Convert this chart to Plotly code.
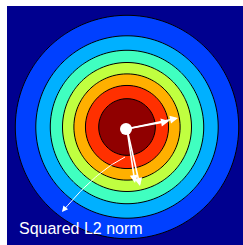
import numpy as np
import plotly.graph_objects as go

# Contour levels of the Gaussian surface and band colours (jet, 8 bands)
levels = [0.125, 0.25, 0.375, 0.5, 0.625, 0.75, 0.875]
band_colors = ["#00008f", "#0040ff", "#00b0ff", "#40ffc0",
               "#c0ff40", "#ffb000", "#ff3000", "#900000"]
center = (120, 121)      # peak location (plot units)
spread = 3000.0          # sigma^2
label = "Squared L2 norm"

W, H = 236, 239
xs = np.arange(0, W + 1, 1.0)
ys = np.arange(0, H + 1, 1.0)
X, Y = np.meshgrid(xs, ys)
Z = np.exp(-((X - center[0]) ** 2 + (Y - center[1]) ** 2) / (2 * spread))

n = len(band_colors)
cs = []
for i, c in enumerate(band_colors):
    cs.append([i / n, c])
    cs.append([(i + 1) / n, c])

fig = go.Figure()
fig.add_trace(go.Contour(
    x=xs, y=ys, z=Z, zmin=0, zmax=1, colorscale=cs, showscale=False,
    contours=dict(start=levels[0], end=levels[-1], size=levels[1] - levels[0], coloring="fill"),
    line=dict(color="black", width=1), hoverinfo="skip"))

# thin curved arrow line
t = np.linspace(0, 1, 30)
p0, p1, p2 = np.array([118, 151]), np.array([88, 166]), np.array([56, 205])
curve = ((1 - t)[:, None] ** 2) * p0 + (2 * (1 - t) * t)[:, None] * p1 + (t ** 2)[:, None] * p2
fig.add_trace(go.Scatter(x=curve[:, 0], y=curve[:, 1], mode="lines",
                         line=dict(color="white", width=1), hoverinfo="skip"))

# white dot at centre
fig.add_trace(go.Scatter(x=[119], y=[123], mode="markers",
                         marker=dict(color="white", size=12), hoverinfo="skip"))

arrows = [((171, 112), (119, 123)), ((162, 115), (119, 123)),
          ((133, 180), (120, 123)), ((128, 177), (120, 123))]
ann = []
for (tx, ty), (sx, sy) in arrows:
    ann.append(dict(x=tx, y=ty, ax=sx, ay=sy, xref="x", yref="y", axref="x", ayref="y",
                    showarrow=True, arrowhead=2, arrowsize=1, arrowwidth=1.6,
                    arrowcolor="white", text=""))
ann.append(dict(x=55, y=206, ax=59, ay=201, xref="x", yref="y", axref="x", ayref="y",
                showarrow=True, arrowhead=2, arrowsize=1.2, arrowwidth=1,
                arrowcolor="white", text=""))
ann.append(dict(x=10, y=222, xref="x", yref="y", text=label, showarrow=False,
                xanchor="left", yanchor="middle",
                font=dict(family="Liberation Sans, Arial, sans-serif", size=16, color="white")))

fig.update_layout(
    width=243, height=245, margin=dict(l=7, r=0, t=6, b=0),
    paper_bgcolor="white", plot_bgcolor="#00008f", showlegend=False,
    xaxis=dict(range=[0, W], visible=False, showgrid=False, zeroline=False),
    yaxis=dict(range=[H, 0], visible=False, showgrid=False, zeroline=False),
    annotations=ann)

fig.write_html("out.html", config={"displayModeBar": False},
               post_script="document.body.style.margin='0';document.body.style.overflow='hidden';")
